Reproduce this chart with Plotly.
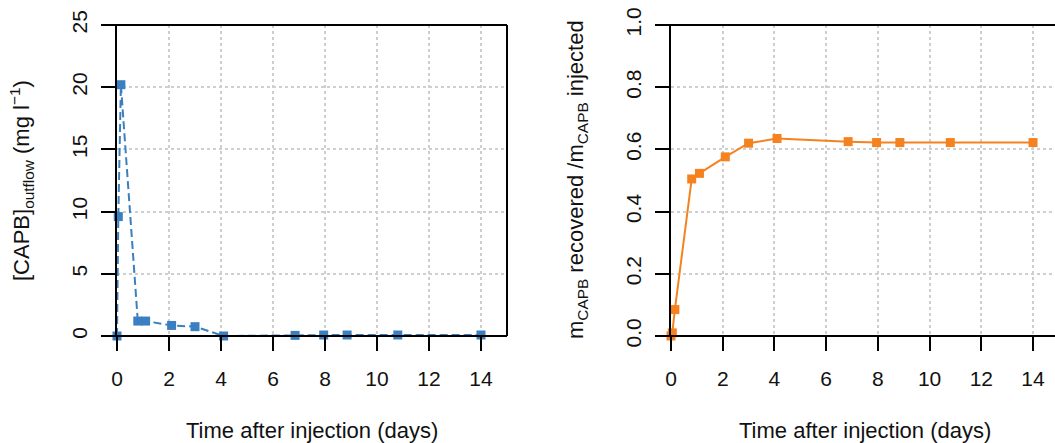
import plotly.graph_objects as go

W, H = 1055, 443

# Data
time_days = [0.0, 0.05, 0.15, 0.8, 1.1, 2.1, 3.0, 4.1, 6.85, 7.95, 8.85, 10.8, 14.0]
capb_outflow = [0.0, 9.6, 20.2, 1.2, 1.2, 0.85, 0.75, 0.0, 0.05, 0.08, 0.08, 0.08, 0.08]
recovered_frac = [0.0, 0.01, 0.085, 0.505, 0.523, 0.576, 0.62, 0.635, 0.625, 0.622, 0.622, 0.622, 0.622]
x_ticks = [0, 2, 4, 6, 8, 10, 12, 14]
y1_ticks = [0, 5, 10, 15, 20, 25]
y2_ticks = [0, 0.2, 0.4, 0.6, 0.8, 1.0]
y2_ticklabels = ["0.0", "0.2", "0.4", "0.6", "0.8", "1.0"]

BLUE = "#3a80c0"
ORANGE = "#f5821f"
FONT = "Liberation Sans, Arial, sans-serif"

def px(x):
    return x / W

def py(y):
    return 1 - y / H

TOP, BOT = 25, 336
L1_EDGE, L1_AX, L1_R = 103, 117, 507
L2_EDGE, L2_AX, L2_R = 657, 671, 1055

fig = go.Figure()
fig.add_trace(go.Scatter(
    x=time_days, y=capb_outflow, mode="lines+markers",
    line=dict(color=BLUE, width=2, dash="8px,4px"),
    marker=dict(symbol="square", size=9, color=BLUE),
    cliponaxis=False, xaxis="x", yaxis="y", showlegend=False))
fig.add_trace(go.Scatter(
    x=time_days, y=recovered_frac, mode="lines+markers",
    line=dict(color=ORANGE, width=2),
    marker=dict(symbol="square", size=9, color=ORANGE),
    cliponaxis=False, xaxis="x2", yaxis="y2", showlegend=False))

common_x = dict(tickvals=x_ticks, ticks="outside", ticklen=14, tickwidth=2,
                tickcolor="black", showgrid=True, gridcolor="#cfcfcf",
                griddash="dot", gridwidth=2, zeroline=False, showline=False,
                automargin=False,
                tickfont=dict(size=21, color="#111"), ticklabelstandoff=10)
common_y = dict(ticks="outside", ticklen=14, tickwidth=2, tickcolor="black",
                showgrid=True, gridcolor="#cfcfcf", griddash="dot", gridwidth=2,
                zeroline=False, showline=True, linecolor="black", linewidth=2,
                automargin=False,
                tickangle=-90, tickfont=dict(size=21, color="#111"), ticklabelstandoff=6)

fig.update_layout(
    width=W, height=H,
    margin=dict(l=0, r=0, t=0, b=0, autoexpand=False),
    paper_bgcolor="white", plot_bgcolor="white",
    font=dict(family=FONT, color="#111"),
    xaxis=dict(domain=[px(L1_AX), px(L1_R)], range=[0, (L1_R - L1_AX) / 26.0],
               anchor="y", **common_x),
    yaxis=dict(domain=[py(BOT), py(TOP)], range=[0, 25], tickvals=y1_ticks,
               anchor="x", **common_y),
    xaxis2=dict(domain=[px(L2_AX), 1], range=[0, (L2_R - L2_AX) / 25.86],
                anchor="y2", **common_x),
    yaxis2=dict(domain=[py(BOT), py(TOP)], range=[0, 1], tickvals=y2_ticks,
                ticktext=y2_ticklabels, anchor="x2", **common_y),
)

shapes = []
for (e, r) in [(L1_EDGE, L1_R), (L2_EDGE, L2_R)]:
    shapes.append(dict(type="line", xref="paper", yref="paper", x0=px(e), x1=px(r),
                       y0=py(TOP), y1=py(TOP), line=dict(color="black", width=2)))
    shapes.append(dict(type="line", xref="paper", yref="paper", x0=px(e), x1=px(r),
                       y0=py(BOT), y1=py(BOT), line=dict(color="black", width=2)))
shapes.append(dict(type="line", xref="paper", yref="paper", x0=px(L1_R), x1=px(L1_R),
                   y0=py(TOP), y1=py(BOT), line=dict(color="black", width=2)))
fig.update_layout(shapes=shapes)

ann = [
    dict(text="Time after injection (days)", x=px(312), y=py(430)),
    dict(text="Time after injection (days)", x=px(865), y=py(430)),
    dict(text="[CAPB]<sub>outflow</sub> (mg l<sup>−1</sup>)", x=px(22), y=py(181), textangle=-90),
    dict(text="m<sub>CAPB</sub> recovered /m<sub>CAPB</sub> injected", x=px(577), y=py(180), textangle=-90),
]
for a in ann:
    a.update(xref="paper", yref="paper", showarrow=False, xanchor="center",
             yanchor="middle", font=dict(size=22, family=FONT, color="#111"))
fig.update_layout(annotations=ann)

fig.write_html("out.html", config={"displayModeBar": False},
               post_script="document.body.style.margin='0px';document.body.style.overflow='hidden';")
